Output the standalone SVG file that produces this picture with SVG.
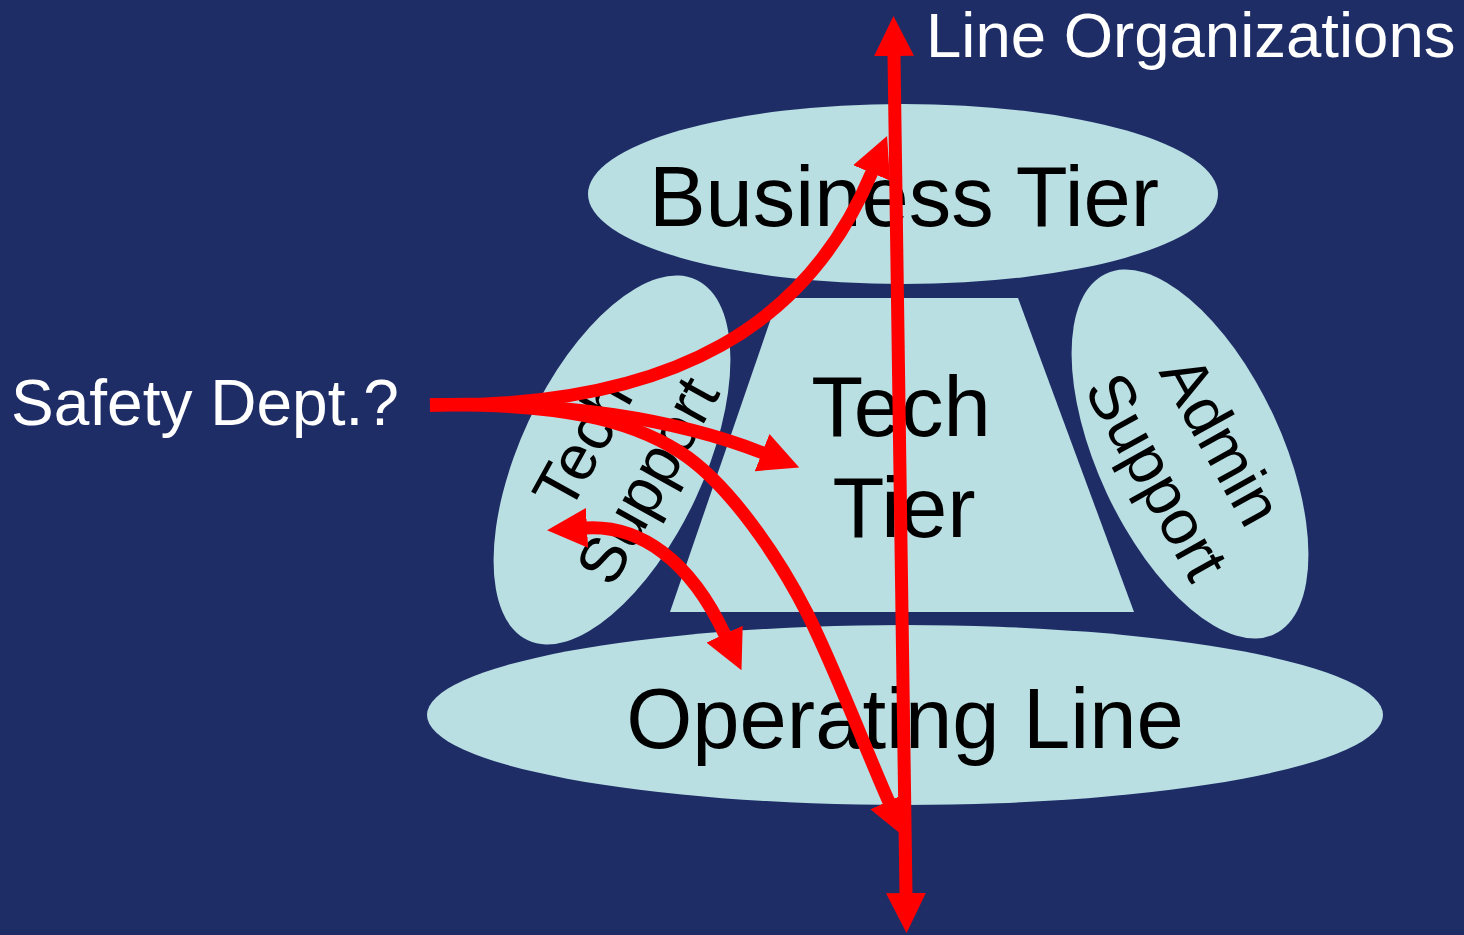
<svg xmlns="http://www.w3.org/2000/svg" width="1464" height="935" viewBox="0 0 1464 935">
  <style>
    .shape { fill: #B9DFE3; }
    .dark { font-family: "Liberation Sans", Arial, sans-serif; fill: #000000; text-anchor: middle; }
    .light { font-family: "Liberation Sans", Arial, sans-serif; fill: #FFFFFF; }
    .conn { fill: none; stroke: #FF0000; stroke-width: 13; }
  </style>
  <defs>
    <marker id="head" viewBox="0 0 40 40" markerUnits="userSpaceOnUse" markerWidth="40" markerHeight="40" refX="1" refY="20" orient="auto-start-reverse">
      <path d="M0,0 L40,20 L0,40 Z" fill="#FF0000"/>
    </marker>
  </defs>
  <rect x="0" y="0" width="1464" height="935" fill="#1F2D67"/>

  <g id="business-tier">
    <ellipse class="shape" cx="903" cy="194" rx="315" ry="90"/>
    <text class="dark" x="904" y="226" font-size="85">Business Tier</text>
  </g>

  <g id="tech-tier">
    <polygon class="shape" points="778,298 1018,298 1134,612 670,612"/>
    <text class="dark" x="901" y="436" font-size="85">Tech</text>
    <text class="dark" x="904" y="537" font-size="85">Tier</text>
  </g>

  <g id="tech-support">
    <ellipse class="shape" cx="612" cy="460" rx="199" ry="92" transform="rotate(-65 612 460)"/>
    <g transform="translate(614 462) rotate(-61)">
      <text class="dark" x="0" y="-14" font-size="64">Tech</text>
      <text class="dark" x="0" y="60" font-size="64">Support</text>
    </g>
  </g>

  <g id="admin-support">
    <ellipse class="shape" cx="1190" cy="454" rx="199" ry="92" transform="rotate(65 1190 454)"/>
    <g transform="translate(1190 458) rotate(61)">
      <text class="dark" x="0" y="-14" font-size="64">Admin</text>
      <text class="dark" x="0" y="60" font-size="64">Support</text>
    </g>
  </g>

  <g id="operating-line">
    <ellipse class="shape" cx="905" cy="715" rx="478" ry="90"/>
    <text class="dark" x="905" y="748" font-size="85">Operating Line</text>
  </g>

  <g id="safety-dept">
    <text class="light" x="11" y="425" font-size="64">Safety Dept.?</text>
  </g>

  <g id="line-organizations">
    <text class="light" x="926" y="57" font-size="63.5">Line Organizations</text>
  </g>

  <g id="connectors">
    <path class="conn" d="M894,55 L906,894" marker-start="url(#head)" marker-end="url(#head)"/>
    <path class="conn" d="M430,405 C680,408 810,320 872,172" marker-end="url(#head)"/>
    <path class="conn" d="M430,405 C560,400 680,420 763,453" marker-end="url(#head)"/>
    <path class="conn" d="M430,405 C560,403 630,420 680,452 C730,484 780,560 807,613 C834,666 870,760 889,802" marker-end="url(#head)"/>
    <path class="conn" d="M586,528 C640,525 690,560 725,635" marker-start="url(#head)" marker-end="url(#head)"/>
  </g>
</svg>
